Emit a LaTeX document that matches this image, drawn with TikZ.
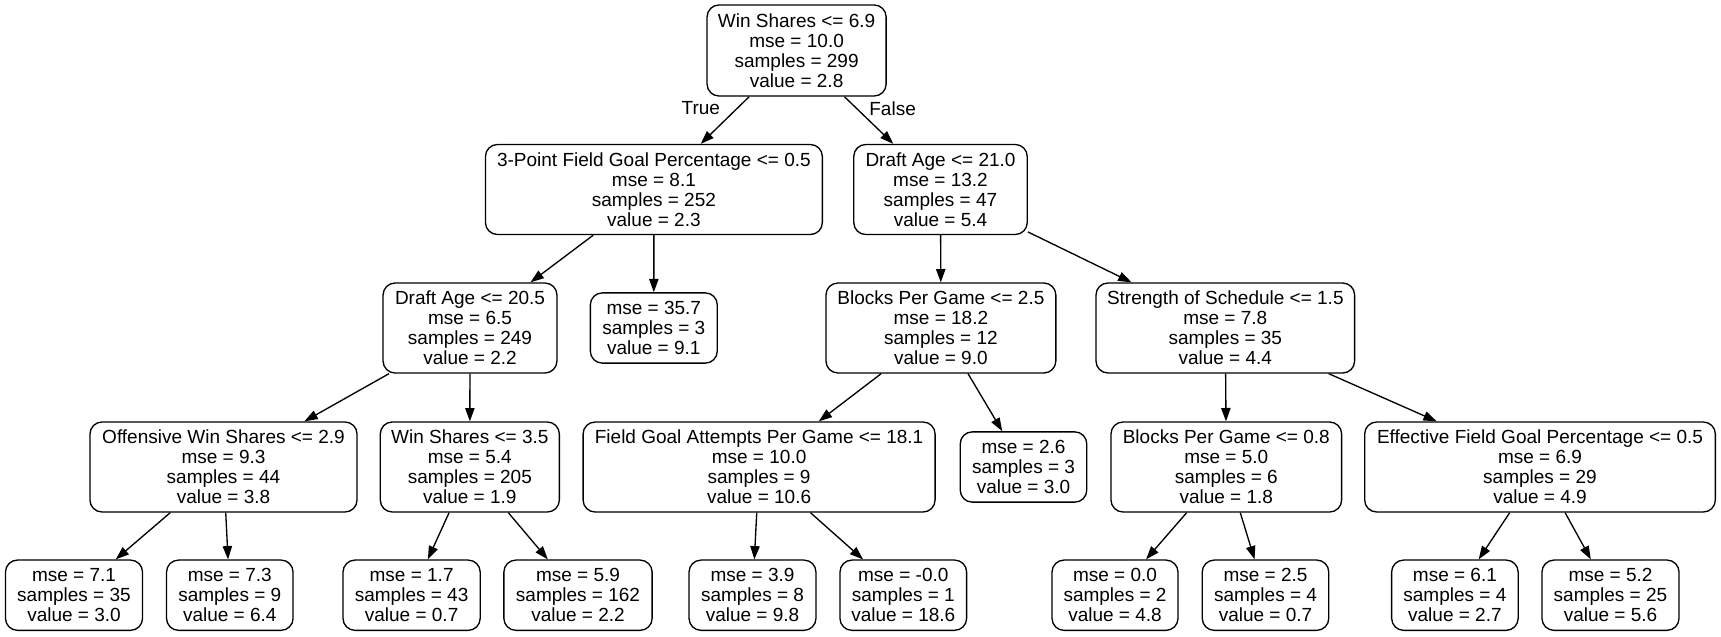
\documentclass[tikz,border=0pt]{standalone}
\usepackage{fontspec}
\setmainfont{Liberation Sans}
\usetikzlibrary{arrows.meta}
\begin{document}
\begin{tikzpicture}[x=0.75pt,y=-0.75pt,
  box/.style={draw=black, line width=1pt, rounded corners=9pt, align=center, inner sep=0pt, font=\fontsize{14.25}{15}\selectfont},
  inode/.style={box, minimum height=67.5pt},
  leaf/.style={box, minimum height=52.7pt},
  edge/.style={draw=black, line width=1pt, -{Triangle[length=10pt,width=7pt]}},
  elabel/.style={font=\fontsize{14.25}{15}\selectfont, inner sep=0pt}]
\useasboundingbox (0,0) rectangle (1721,636);
% level 0
\node[inode, minimum height=68.3pt, minimum width=134.3pt] (root) at (796.6,50.5) {Win Shares <= 6.9\\mse = 10.0\\samples = 299\\value = 2.8};
% level 1
\node[inode, minimum width=252.7pt] (A) at (653.9,189.5) {3-Point Field Goal Percentage <= 0.5\\mse = 8.1\\samples = 252\\value = 2.3};
\node[inode, minimum width=130.1pt] (B) at (940.5,189.5) {Draft Age <= 21.0\\mse = 13.2\\samples = 47\\value = 5.4};
% level 2
\node[inode, minimum width=130.4pt] (C) at (470,328) {Draft Age <= 20.5\\mse = 6.5\\samples = 249\\value = 2.2};
\node[leaf, minimum width=95.2pt] (D) at (653.8,328) {mse = 35.7\\samples = 3\\value = 9.1};
\node[inode, minimum width=172.4pt] (E) at (940.9,328) {Blocks Per Game <= 2.5\\mse = 18.2\\samples = 12\\value = 9.0};
\node[inode, minimum width=194pt] (F) at (1225.3,328) {Strength of Schedule <= 1.5\\mse = 7.8\\samples = 35\\value = 4.4};
% level 3
\node[inode, minimum width=200.3pt] (G) at (223.5,467) {Offensive Win Shares <= 2.9\\mse = 9.3\\samples = 44\\value = 3.8};
\node[inode, minimum width=134.3pt] (H) at (469.8,467) {Win Shares <= 3.5\\mse = 5.4\\samples = 205\\value = 1.9};
\node[inode, minimum width=264pt] (I) at (759.1,467) {Field Goal Attempts Per Game <= 18.1\\mse = 10.0\\samples = 9\\value = 10.6};
\node[leaf, minimum width=94.9pt] (J) at (1023.5,467) {mse = 2.6\\samples = 3\\value = 3.0};
\node[inode, minimum width=173pt] (K) at (1226.3,467) {Blocks Per Game <= 0.8\\mse = 5.0\\samples = 6\\value = 1.8};
\node[inode, minimum width=263pt] (L) at (1540,467) {Effective Field Goal Percentage <= 0.5\\mse = 6.9\\samples = 29\\value = 4.9};
% level 4 (leaves)
\node[leaf, minimum width=102.8pt] (L1) at (74,595.2) {mse = 7.1\\samples = 35\\value = 3.0};
\node[leaf, minimum width=94.9pt] (L2) at (229.8,595.2) {mse = 7.3\\samples = 9\\value = 6.4};
\node[leaf, minimum width=102.9pt] (L3) at (411.6,595.2) {mse = 1.7\\samples = 43\\value = 0.7};
\node[leaf, minimum width=111.2pt] (L4) at (578,595.2) {mse = 5.9\\samples = 162\\value = 2.2};
\node[leaf, minimum width=95.2pt] (L5) at (752.5,595.2) {mse = 3.9\\samples = 8\\value = 9.8};
\node[leaf, minimum width=95pt] (L6) at (903.3,595.2) {mse = -0.0\\samples = 1\\value = 18.6};
\node[leaf, minimum width=94.5pt] (L7) at (1115,595.2) {mse = 0.0\\samples = 2\\value = 4.8};
\node[leaf, minimum width=94.9pt] (L8) at (1265.5,595.2) {mse = 2.5\\samples = 4\\value = 0.7};
\node[leaf, minimum width=94.9pt] (L9) at (1454.9,595.2) {mse = 6.1\\samples = 4\\value = 2.7};
\node[leaf, minimum width=102.8pt] (L10) at (1610.5,595.2) {mse = 5.2\\samples = 25\\value = 5.6};
% edge labels
\node[elabel] (tlab) at (700.8,108.3) {True};
\node[elabel] (flab) at (892.6,108.3) {False};
% edges
\draw[edge] (root) -- (A);
\draw[edge] (root) -- (B);
\draw[edge] (A) -- (C);
\draw[edge] (A) -- (D);
\draw[edge] (B) -- (E);
\draw[edge] (B) -- (F);
\draw[edge] (C) -- (G);
\draw[edge] (C) -- (H);
\draw[edge] (E) -- (I);
\draw[edge] (E) -- (J);
\draw[edge] (F) -- (K);
\draw[edge] (F) -- (L);
\draw[edge] (G) -- (L1);
\draw[edge] (G) -- (L2);
\draw[edge] (H) -- (L3);
\draw[edge] (H) -- (L4);
\draw[edge] (I) -- (L5);
\draw[edge] (I) -- (L6);
\draw[edge] (K) -- (L7);
\draw[edge] (K) -- (L8);
\draw[edge] (L) -- (L9);
\draw[edge] (L) -- (L10);
\end{tikzpicture}
\end{document}
